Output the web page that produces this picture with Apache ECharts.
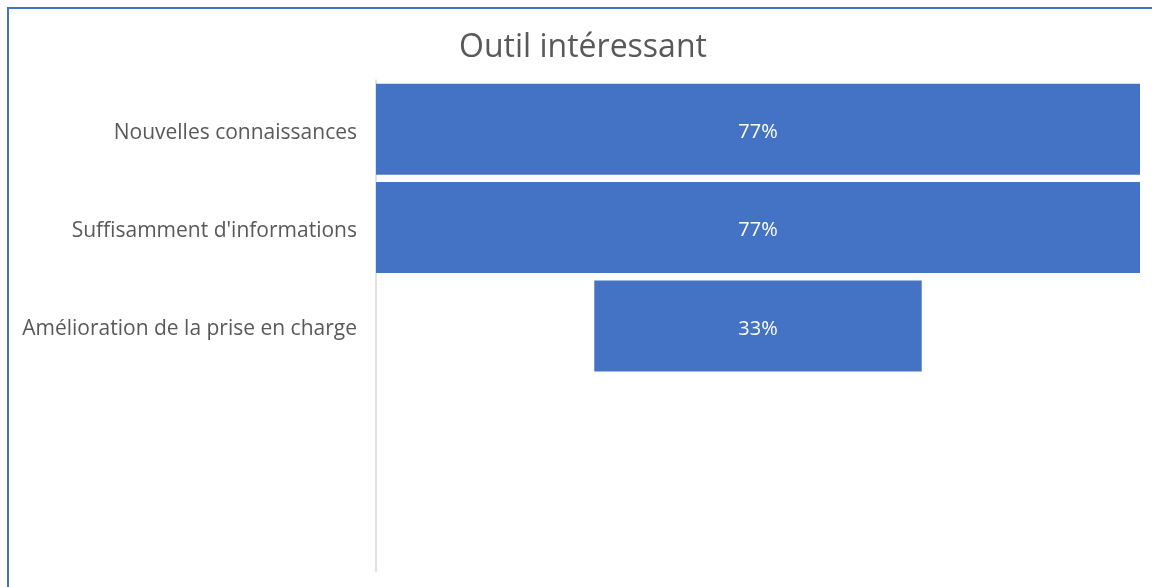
<!DOCTYPE html>
<html><head><meta charset="utf-8">
<script src="https://cdn.jsdelivr.net/npm/echarts@6/dist/echarts.min.js"></script>
<style>html,body{margin:0;padding:0;background:#fff;}#c{width:1152px;height:587px;}
#b{position:absolute;left:7px;top:7px;width:1160px;height:600px;border-left:2px solid #4472c4;border-top:2px solid #4472c4;pointer-events:none;}</style>
</head><body><div id="c"></div><div id="b"></div>
<script>
const title = 'Outil intéressant';
const categories = ['Nouvelles connaissances', "Suffisamment d'informations", 'Amélioration de la prise en charge'];
const values = [77, 77, 33];
const emptySlots = 2;

const maxV = Math.max(...values);
const cats = categories.concat(Array(emptySlots).fill(''));
const offsets = values.map(v => (maxV - v) / 2);
const chart = echarts.init(document.getElementById('c'));
chart.setOption({
  animation: false,
  title: { text: title, left: 578, top: 27, textAlign: 'center',
    textStyle: { fontFamily: 'Open Sans', fontSize: 32, fontWeight: 'normal', color: '#595959' } },
  grid: { left: 376, right: 12, top: 80, bottom: 15 },
  xAxis: { type: 'value', min: 0, max: maxV, show: false },
  yAxis: { type: 'category', data: cats, inverse: true,
    axisLine: { show: true, lineStyle: { color: '#d9d9d9', width: 1.5 } },
    axisTick: { show: false },
    axisLabel: { margin: 19, formatter: v => v ? '{a|' + v + '}' : '',
      rich: { a: { fontFamily: 'Open Sans', fontSize: 21, color: '#595959', padding: [7, 0, 0, 0] } } } },
  series: [
    { type: 'bar', stack: 's', data: offsets, itemStyle: { color: 'transparent' }, barCategoryGap: '7.5%', silent: true },
    { type: 'bar', stack: 's', data: values, itemStyle: { color: '#4472c4' }, barCategoryGap: '7.5%',
      label: { show: true, position: 'inside', formatter: '{c}%', color: '#fff', fontFamily: 'Open Sans', fontSize: 20, offset: [0, 3] } }
  ]
});
</script></body></html>
